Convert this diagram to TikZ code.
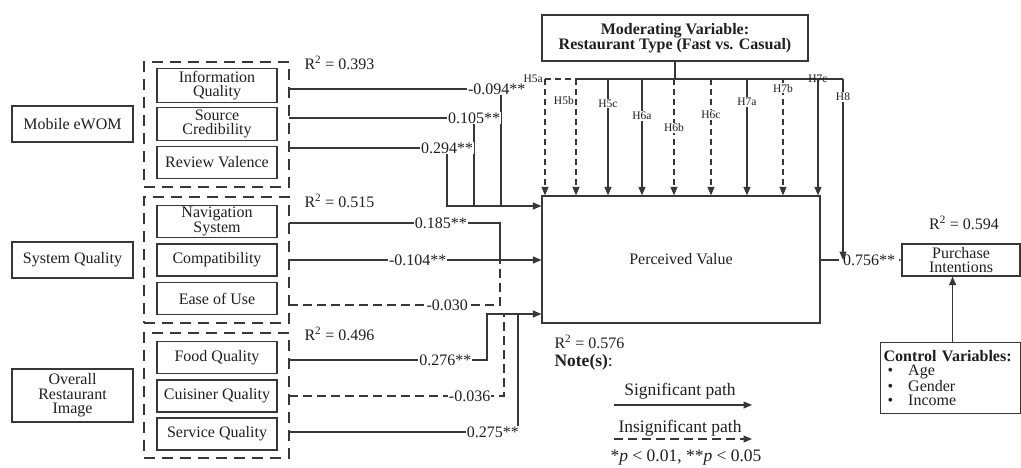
\documentclass[tikz,border=0pt]{standalone}
\usepackage{fontspec}
\setmainfont{Liberation Serif}
\usetikzlibrary{arrows.meta}
\definecolor{ln}{HTML}{383838}
\begin{document}
\begin{tikzpicture}[x=1pt,y=-1pt,
  every node/.style={text=black!88, font=\fontsize{16}{14.5}\selectfont},
  ln/.style={draw=ln, line width=1.2pt},
  arr/.style={-{Triangle[length=8.5pt,width=7pt]}},
  dl/.style={dash pattern=on 9pt off 5pt},
  dl2/.style={dash pattern=on 6pt off 4pt},
  bx/.style={draw=ln, line width=1.2pt, align=center, inner sep=2pt},
  ib/.style={bx, minimum width=120, minimum height=32},
  grp/.style={draw=ln, line width=1.2pt, dash pattern=on 11pt off 7pt, inner sep=0pt},
  cl/.style={fill=white, inner sep=1pt, font=\fontsize{16}{16}\selectfont},
  hl/.style={inner sep=1pt, font=\fontsize{11.5}{12}\selectfont},
  hlf/.style={hl, fill=white},
  nt/.style={font=\fontsize{17.5}{17.5}\selectfont}
]
\useasboundingbox (0,0) rectangle (1021,468);

% left constructs
\node[bx, minimum width=121, minimum height=36] (mob) at (72.5,124) {Mobile eWOM};
\node[bx, minimum width=121, minimum height=36] (sys) at (72.5,260) {System Quality};
\node[bx, minimum width=121, minimum height=53] (ori) at (72.5,395.5) {Overall\\Restaurant\\Image};

% dashed groups
\node[grp, minimum width=145, minimum height=125] (g1) at (216.5,124.5) {};
\node[grp, minimum width=145, minimum height=126] (g2) at (216.5,260) {};
\node[grp, minimum width=145, minimum height=125] (g3) at (216.5,395.5) {};

% items
\node[ib] (iq) at (217,85.5) {Information\\Quality};
\node[ib] (sc) at (217,124) {Source\\Credibility};
\node[ib] (rv) at (217,162.5) {Review Valence};
\node[ib] (ns) at (217,221.5) {Navigation\\System};
\node[ib] (co) at (217,260) {Compatibility};
\node[ib] (eu) at (217,298.5) {Ease of Use};
\node[ib] (fq) at (217,357.5) {Food Quality};
\node[ib] (cq) at (217,396) {Cuisiner Quality};
\node[ib] (sq) at (217,434) {Service Quality};

% R2 labels
\node[anchor=west] (r1) at (301,63) {R\textsuperscript{2} = 0.393};
\node[anchor=west] (r2) at (301,201) {R\textsuperscript{2} = 0.515};
\node[anchor=west] (r3) at (301,334) {R\textsuperscript{2} = 0.496};

% central nodes
\node[bx, minimum width=278, minimum height=127] (pv) at (681,259.5) {Perceived Value};
\node[bx, minimum width=266, minimum height=46] (mod) at (675,38) {\textbf{Moderating Variable:}\\\textbf{Restaurant Type (Fast vs. Casual)}};
\node[bx, minimum width=118, minimum height=32] (pi) at (961,260) {Purchase\\Intentions};
\node[bx, anchor=north west, minimum width=140, minimum height=71, align=left, text width=134, inner xsep=3pt] (ctrl) at (880,342)
  {\textbf{Control Variables:}\\\hspace*{4pt}\textbullet\hspace{15pt}Age\\\hspace*{4pt}\textbullet\hspace{15pt}Gender\\\hspace*{4pt}\textbullet\hspace{15pt}Income};
\node (r4) at (551,342) [anchor=west] {R\textsuperscript{2} = 0.576};
\node (r5) at (964,223) {R\textsuperscript{2} = 0.594};

% start coordinates
\coordinate (iqS) at (289,89);
\coordinate (scS) at (289,118);
\coordinate (rvS) at (289,148);
\coordinate (nsS) at (289,223);
\coordinate (coS) at (289,260);
\coordinate (euS) at (289,305);
\coordinate (fqS) at (289,360);
\coordinate (cqS) at (289,396);
\coordinate (sqS) at (289,432);
\coordinate (jm) at (447,206);
\coordinate (jo) at (487,314);

% mobile eWOM paths
\draw[ln] (iqS) -- node[cl,pos=0.98]{-0.094**} (501,89) -- (501,206);
\draw[ln] (scS) -- node[cl,pos=1]{0.105**} (474,118) -- (474,206);
\draw[ln,arr] (rvS) -- node[cl,pos=1]{0.294**} (447,148) -- (jm) -- (jm -| pv.west);

% system quality paths
\draw[ln] (nsS) -- node[cl,pos=0.72]{0.185**} (500,223) -- (500,260);
\draw[ln,arr] (coS) -- node[cl,pos=0.51]{-0.104**} (coS -| pv.west);
\draw[ln,dl] (euS) -- node[cl,pos=0.75]{-0.030} (500,305) -- (500,260);

% restaurant image paths
\draw[ln,arr] (fqS) -- node[cl,pos=0.79]{0.276**} (487,360) -- (jo) -- (jo -| pv.west);
\draw[ln,dl] (cqS) -- node[cl,pos=0.84]{-0.036} (504,396) -- (504,314);
\draw[ln] (sqS) -- node[cl,pos=0.89]{0.275**} (518,432) -- (518,314);

% moderating variable
\coordinate (h5a) at (545,79);
\coordinate (h5b) at (576,79);
\coordinate (h5c) at (608,79);
\coordinate (h6a) at (642,79);
\coordinate (h6b) at (674,79);
\coordinate (h6c) at (711,79);
\coordinate (h7a) at (747,79);
\coordinate (h7b) at (783,79);
\coordinate (h7c) at (818,79);
\coordinate (h8) at (843,79);
\draw[ln] (mod.south) -- (mod.south |- h5b);
\draw[ln,dl2] (h5a) -- (h5b);
\draw[ln] (h5b) -- (h8);
\draw[ln,dl2,arr] (h5a) -- (h5a |- pv.north);
\draw[ln,dl2,arr] (h5b) -- (h5b |- pv.north);
\draw[ln,arr] (h5c) -- node[hlf,pos=0.21]{H5c} (h5c |- pv.north);
\draw[ln,arr] (h6a) -- node[hlf,pos=0.32]{H6a} (h6a |- pv.north);
\draw[ln,dl2,arr] (h6b) -- node[hlf,pos=0.42]{H6b} (h6b |- pv.north);
\draw[ln,dl2,arr] (h6c) -- node[hlf,pos=0.31]{H6c} (h6c |- pv.north);
\draw[ln,arr] (h7a) -- node[hlf,pos=0.2]{H7a} (h7a |- pv.north);
\draw[ln,dl2,arr] (h7b) -- node[hlf,pos=0.08]{H7b} (h7b |- pv.north);
\draw[ln,arr] (h7c) -- (h7c |- pv.north);
\node[hl, anchor=east] (lh5a) at (544,79) {H5a};
\node[hl, anchor=east] (lh5b) at (575,101) {H5b};
\node[hl] (lh7c) at (818,79) {H7c};

% outcome
\draw[ln,arr] (pv.east |- pi.west) -- node[cl,pos=0.6,inner xsep=4pt]{0.756**} (pi.west);
\draw[ln,arr] (h8) -- node[hlf,pos=0.1]{H8} (h8 |- pi.west);
\draw[ln,arr] ([xshift=2pt]ctrl.north) -- ([xshift=2pt]ctrl.north |- pi.south);

% legend
\node[nt, anchor=west] (note) at (551,362) {\textbf{Note(s)}:};
\node[nt] (sigt) at (680,391) {Significant path};
\node[nt] (insigt) at (680,428) {Insignificant path};
\node[nt] (pval) at (686,458) {*\textit{p} < 0.01, **\textit{p} < 0.05};
\coordinate (sg1) at (614,405);
\coordinate (sg2) at (752,405);
\coordinate (is1) at (614,439);
\coordinate (is2) at (752,439);
\draw[ln,arr] (sg1) -- (sg2);
\draw[ln,dl,arr] (is1) -- (is2);
\end{tikzpicture}
\end{document}
